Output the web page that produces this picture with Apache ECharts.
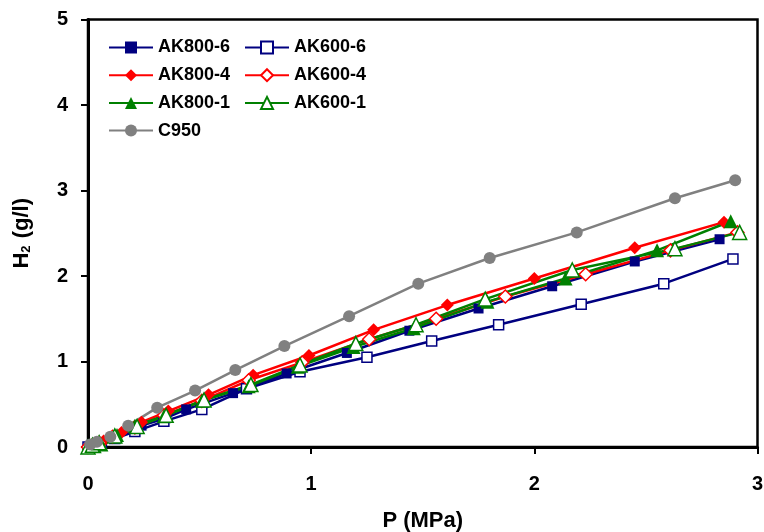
<!DOCTYPE html>
<html><head><meta charset="utf-8">
<script src="https://cdn.jsdelivr.net/npm/echarts@6/dist/echarts.min.js"></script>
<style>html,body{margin:0;padding:0;background:#fff}#c{width:764px;height:532px}</style>
</head><body><div id="c"></div>
<script>
// ---- data (P in MPa, H2 in g/l) ----
const names = ['AK800-6', 'AK600-6', 'AK800-4', 'AK600-4', 'AK800-1', 'AK600-1', 'C950'];
const xTicks = [0, 1, 2, 3];
const yTicks = [0, 1, 2, 3, 4, 5];

const ak800_6_x = [0, 0.02, 0.05, 0.12, 0.24, 0.34, 0.44, 0.65, 0.89, 1.16, 1.44, 1.75, 2.08, 2.45, 2.83];
const ak800_6_y = [0, 0.02, 0.05, 0.12, 0.25, 0.33, 0.44, 0.63, 0.86, 1.10, 1.36, 1.62, 1.88, 2.17, 2.43];

const ak600_6_x = [0, 0.02, 0.06, 0.12, 0.21, 0.34, 0.51, 0.71, 0.95, 1.25, 1.54, 1.84, 2.21, 2.58, 2.89];
const ak600_6_y = [0, 0.02, 0.05, 0.10, 0.18, 0.30, 0.44, 0.68, 0.88, 1.05, 1.24, 1.43, 1.67, 1.91, 2.20];

const ak800_4_x = [0, 0.03, 0.07, 0.15, 0.24, 0.36, 0.54, 0.74, 0.99, 1.28, 1.61, 2.00, 2.45, 2.85];
const ak800_4_y = [0, 0.03, 0.07, 0.17, 0.29, 0.42, 0.61, 0.84, 1.07, 1.37, 1.66, 1.97, 2.33, 2.63];

const ak600_4_x = [0, 0.02, 0.05, 0.11, 0.21, 0.34, 0.51, 0.72, 0.96, 1.26, 1.56, 1.87, 2.23, 2.61, 2.91];
const ak600_4_y = [0, 0.02, 0.05, 0.12, 0.23, 0.37, 0.54, 0.78, 0.99, 1.26, 1.50, 1.76, 2.02, 2.30, 2.51];

const ak800_1_x = [0, 0.03, 0.06, 0.13, 0.21, 0.34, 0.51, 0.72, 0.94, 1.19, 1.46, 1.79, 2.14, 2.55, 2.88];
const ak800_1_y = [0, 0.01, 0.03, 0.14, 0.25, 0.36, 0.54, 0.71, 0.94, 1.17, 1.39, 1.70, 1.97, 2.30, 2.64];

const ak600_1_x = [0, 0.02, 0.05, 0.12, 0.22, 0.35, 0.52, 0.73, 0.95, 1.20, 1.47, 1.78, 2.17, 2.63, 2.92];
const ak600_1_y = [0, 0.02, 0.05, 0.13, 0.24, 0.37, 0.55, 0.73, 0.96, 1.21, 1.43, 1.73, 2.07, 2.32, 2.51];

const c950_x = [0.01, 0.04, 0.10, 0.18, 0.31, 0.48, 0.66, 0.88, 1.17, 1.48, 1.80, 2.19, 2.63, 2.90];
const c950_y = [0.03, 0.06, 0.12, 0.25, 0.46, 0.66, 0.90, 1.18, 1.53, 1.91, 2.21, 2.51, 2.91, 3.12];

// ---- build ----
const zip = (xs, ys) => xs.map((x, i) => [x, ys[i]]);
const FONT = '"Liberation Sans", Arial, sans-serif';
const NAVY = '#000080', RED = '#FF0000', GREEN = '#008000', GRAY = '#808080';

function mk(name, xs, ys, color, symbol, size, empty) {
  return {
    name, type: 'line', data: zip(xs, ys),
    symbol, symbolSize: size, showSymbol: true,
    lineStyle: { color, width: 2.5 },
    itemStyle: empty ? { color: '#fff', borderColor: color, borderWidth: 1.5 }
                     : { color, borderColor: color, borderWidth: 0 },
    animation: false, z: 2
  };
}

const series = [
  mk(names[0], ak800_6_x, ak800_6_y, NAVY, 'rect', 10, false),
  mk(names[1], ak600_6_x, ak600_6_y, NAVY, 'rect', 10, true),
  mk(names[2], ak800_4_x, ak800_4_y, RED, 'diamond', 13, false),
  mk(names[3], ak600_4_x, ak600_4_y, RED, 'diamond', 13, true),
  mk(names[4], ak800_1_x, ak800_1_y, GREEN, 'triangle', 14, false),
  mk(names[5], ak600_1_x, ak600_1_y, GREEN, 'triangle', 14, true),
  mk(names[6], c950_x, c950_y, GRAY, 'circle', 12, false)
];

const legendCommon = {
  orient: 'vertical', itemWidth: 44, itemHeight: 15, itemGap: 8.7,
  textStyle: { fontFamily: FONT, fontWeight: 'bold', fontSize: 18, color: '#000', lineHeight: 19 },
  selectedMode: false
};

const chart = echarts.init(document.getElementById('c'), null, { renderer: 'canvas' });
chart.setOption({
  animation: false,
  backgroundColor: '#fff',
  grid: { left: 88, right: 6.5, top: 19.5, bottom: 85, show: true, borderColor: '#000', borderWidth: 2.5,
          backgroundColor: 'transparent', containLabel: false, outerBoundsMode: 'none' },
  legend: [
    Object.assign({ data: [names[0], names[2], names[4], names[6]], left: 103, top: 33 }, legendCommon),
    Object.assign({ data: [names[1], names[3], names[5]], left: 239, top: 33 }, legendCommon)
  ],
  xAxis: {
    type: 'value', min: xTicks[0], max: xTicks[xTicks.length - 1], interval: 1,
    name: 'P (MPa)', nameLocation: 'middle', nameGap: 63,
    nameTextStyle: { fontFamily: FONT, fontWeight: 'bold', fontSize: 22, color: '#000' },
    axisLine: { show: true, onZero: false, lineStyle: { color: '#000', width: 3 } },
    axisTick: { show: true, inside: false, length: 7, lineStyle: { color: '#000', width: 2 } },
    axisLabel: { fontFamily: FONT, fontWeight: 'bold', fontSize: 20, color: '#000', margin: 27 },
    splitLine: { show: false }
  },
  yAxis: {
    type: 'value', min: yTicks[0], max: yTicks[yTicks.length - 1], interval: 1,
    name: '{a|H}{b|2}{a| (g/l)}', nameLocation: 'middle', nameGap: 55, nameRotate: 90,
    nameTextStyle: {
      fontFamily: FONT, fontWeight: 'bold', fontSize: 22, color: '#000',
      rich: {
        a: { fontFamily: FONT, fontWeight: 'bold', fontSize: 22, color: '#000', lineHeight: 26, verticalAlign: 'bottom' },
        b: { fontFamily: FONT, fontWeight: 'bold', fontSize: 13, color: '#000', lineHeight: 26, verticalAlign: 'bottom', padding: [0, 1, 0, 0] }
      }
    },
    axisLine: { show: true, onZero: false, lineStyle: { color: '#000', width: 3 } },
    axisTick: { show: true, inside: false, length: 7, lineStyle: { color: '#000', width: 2 } },
    axisLabel: { fontFamily: FONT, fontWeight: 'bold', fontSize: 20, color: '#000', margin: 20 },
    splitLine: { show: false }
  },
  series
});
</script>
</body></html>
